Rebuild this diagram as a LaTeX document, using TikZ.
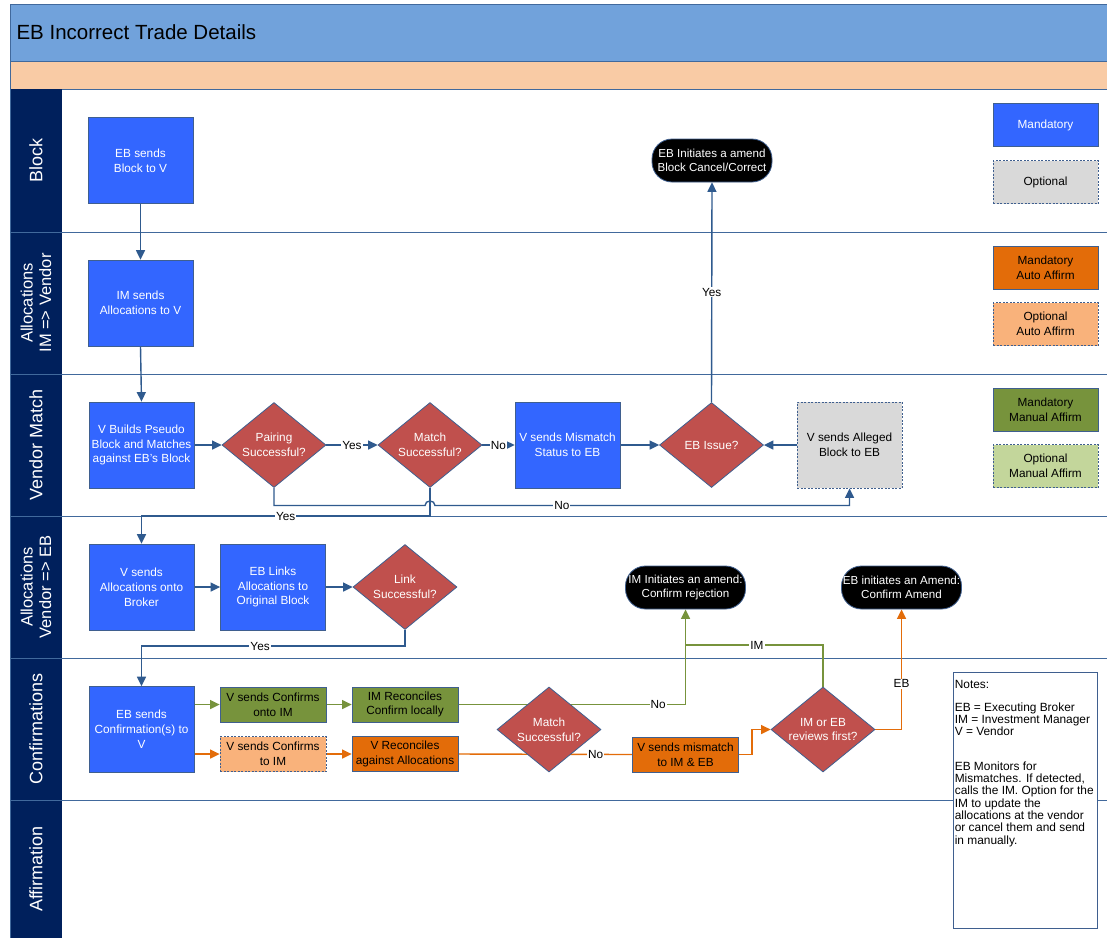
\documentclass[tikz,border=0pt]{standalone}
\usepackage{fontspec}
\setmainfont{Liberation Sans}
\usetikzlibrary{shapes.geometric,arrows.meta}
\definecolor{mblue}{HTML}{3366FF}
\definecolor{dred}{HTML}{C0504D}
\definecolor{bordc}{HTML}{3F5F8F}
\definecolor{lblue}{HTML}{2F5A8E}
\definecolor{optgray}{HTML}{D9D9D9}
\definecolor{mgreen}{HTML}{77933C}
\definecolor{ogreen}{HTML}{C3D69B}
\definecolor{morange}{HTML}{E36C09}
\definecolor{oorange}{HTML}{F9B27B}
\definecolor{titleblue}{HTML}{71A2DB}
\definecolor{bandorange}{HTML}{F9CBA5}
\definecolor{lanenavy}{HTML}{00205C}
\definecolor{sepblue}{HTML}{41699C}
\newcommand{\boxfont}{\fontsize{11.8}{14.8}\selectfont}
\newcommand{\lblfont}{\fontsize{11.8}{13}\selectfont}
\newcommand{\lanefont}{\fontsize{18}{20}\selectfont}
\newcommand{\lanefonttwo}{\fontsize{16.5}{18.5}\selectfont}
\pgfdeclarelayer{lanes}
\pgfdeclarelayer{bg}
\pgfsetlayers{lanes,bg,main}
\begin{document}
\begin{tikzpicture}[x=1pt,y=-1pt,
  box/.style={rectangle, draw=bordc, line width=0.8pt, align=center, inner sep=1pt, font=\boxfont},
  mand/.style={box, fill=mblue, text=white, minimum width=105pt, minimum height=86pt},
  optbox/.style={box, fill=optgray, text=black, dash pattern=on 2pt off 1.5pt, minimum width=105pt, minimum height=86pt},
  sbox/.style={box, text=black, minimum width=106pt, minimum height=35pt},
  dashedbox/.style={dash pattern=on 2pt off 1.5pt},
  dia/.style={diamond, aspect=1.22, inner sep=0pt, draw=bordc, line width=0.8pt, fill=dred, text=white, minimum width=104pt, minimum height=85pt, align=center, font=\boxfont},
  term/.style={rectangle, rounded corners=20pt, fill=black, draw=bordc, line width=0.8pt, text=white, minimum width=120pt, minimum height=43pt, align=center, inner sep=0pt, font=\fontsize{11.6}{14.2}\selectfont},
  legbox/.style={box, minimum width=105pt, minimum height=43pt, font=\fontsize{11.8}{15}\selectfont},
  conn/.style={line width=1.4pt, draw=lblue},
  arr/.style={conn, -{Triangle[length=9.5pt,width=9pt]}},
  gconn/.style={line width=1.4pt, draw=mgreen},
  garr/.style={gconn, -{Triangle[length=9.5pt,width=9pt]}},
  oconn/.style={line width=1.4pt, draw=morange},
  oarr/.style={oconn, -{Triangle[length=9.5pt,width=9pt]}},
  lbl/.style={fill=white, inner sep=1pt, font=\lblfont, text=black},
  lanelbl/.style={rotate=90, text=white, align=center}
]
\useasboundingbox (0,0) rectangle (1107,938);

% ---------- lanes / background ----------
\begin{pgfonlayer}{lanes}
  \fill[white] (0,0) rectangle (1107,938);
  \fill[titleblue] (10,4) rectangle (1107,61);
  \draw[sepblue, line width=0.8pt] (10,4) -- (1107,4);
  \fill[bandorange] (10,61) rectangle (1107,89);
  \draw[sepblue, line width=0.8pt] (10,61) -- (1107,61);
  \draw[sepblue, line width=0.8pt] (10,89) -- (1107,89);
  \fill[lanenavy] (10,89) rectangle (62,938);
  \draw[sepblue, line width=1pt] (10,4) -- (10,938);
  \foreach \yy in {232,374,516,658,800} {
    \draw[sepblue, line width=1pt] (10,\yy) -- (1107,\yy);
  }
  \node[anchor=west, font=\fontsize{20.5}{24}\selectfont, text=black] (title) at (13,32) {EB Incorrect Trade Details};
  \node[lanelbl, font=\lanefont] (lane1) at (36,160.5) {Block};
  \node[lanelbl, font=\lanefonttwo] (lane2) at (36,303) {Allocations\\IM => Vendor};
  \node[lanelbl, font=\lanefont] (lane3) at (36,445) {Vendor Match};
  \node[lanelbl, font=\lanefonttwo] (lane4) at (36,587) {Allocations\\Vendor => EB};
  \node[lanelbl, font=\lanefont] (lane5) at (36,729) {Confirmations};
  \node[lanelbl, font=\lanefont] (lane6) at (36,869) {Affirmation};
\end{pgfonlayer}

% ---------- nodes ----------
\node[mand] (ebb) at (140.5,160.5) {EB sends\\Block to V};
\node[mand] (ims) at (140.5,303) {IM sends\\Allocations to V};
\node[mand] (vb) at (141.5,445) {V Builds Pseudo\\Block and Matches\\against EB's Block};
\node[dia] (pair) at (274,445) {Pairing\\Successful?};
\node[dia] (match) at (430,445) {Match\\Successful?};
\node[mand] (vsm) at (567.5,445) {V sends Mismatch\\Status to EB};
\node[dia] (ebi) at (711.5,445) {EB Issue?};
\node[optbox] (alleged) at (849.5,445) {V sends Alleged\\Block to EB};
\node[term] (blkamend) at (712,160.5) {EB Initiates a amend\\Block Cancel/Correct};

\node[mand] (vab) at (141.5,587) {V sends\\Allocations onto\\Broker};
\node[mand] (ebl) at (273,587) {EB Links\\Allocations to\\Original Block};
\node[dia] (link) at (405,587) {Link\\Successful?};
\node[term] (imamend) at (685.5,587.5) {IM Initiates an amend:\\Confirm rejection};
\node[term] (ebamend) at (901.5,587.5) {EB initiates an Amend:\\Confirm Amend};

\node[mand] (ebconf) at (141.5,729.5) {EB sends\\Confirmation(s) to\\V};
\node[sbox, fill=mgreen] (vci) at (273,704.5) {V sends Confirms\\onto IM};
\node[sbox, fill=mgreen] (imrec) at (405,704.5) {IM Reconciles\\Confirm locally};
\node[sbox, fill=oorange, dashedbox] (vct) at (273,754) {V sends Confirms\\to IM};
\node[sbox, fill=morange] (vrec) at (405,754) {V Reconciles\\against Allocations};
\node[dia] (match2) at (549,729.5) {Match\\Successful?};
\node[sbox, fill=morange] (mm) at (685.5,754.5) {V sends mismatch\\to IM \& EB};
\node[dia] (imeb) at (823,729.5) {IM or EB\\reviews first?};

% legend
\node[legbox, fill=mblue, text=white] (leg1) at (1045.5,125) {Mandatory};
\node[legbox, fill=optgray, dashedbox] (leg2) at (1045.5,182) {Optional};
\node[legbox, fill=morange] (leg3) at (1045.5,267.5) {Mandatory\\Auto Affirm};
\node[legbox, fill=oorange, dashedbox] (leg4) at (1045.5,324) {Optional\\Auto Affirm};
\node[legbox, fill=mgreen] (leg5) at (1045.5,409.5) {Mandatory\\Manual Affirm};
\node[legbox, fill=ogreen, dashedbox] (leg6) at (1045.5,466) {Optional\\Manual Affirm};

% notes
\node[rectangle, draw=bordc, fill=white, line width=0.8pt, minimum width=144pt, minimum height=256pt, inner sep=0pt] (notes) at (1025,800) {};
\node[anchor=north west, align=left, inner sep=0pt, font=\fontsize{11.9}{12.3}\selectfont, xshift=2pt, yshift=-8pt] (notestext) at (notes.north west)
{Notes:\\[11pt]EB = Executing Broker\\IM = Investment Manager\\V = Vendor\\[22pt]EB Monitors for\\Mismatches. If detected,\\calls the IM. Option for the\\IM to update the\\allocations at the vendor\\or cancel them and send\\in manually.};

% ---------- connectors ----------
\coordinate (hopL) at (425,505.5);
\coordinate (hopR) at (435,505.5);
\coordinate (imj) at (685.5,645);
\begin{pgfonlayer}{bg}
  \draw[arr] (ebb.south) -- (ims.north);
  \draw[arr] (ims.south) -- (vb.north);
  \draw[arr] (vb.east) -- (pair.west);
  \draw[arr] (pair.east) -- node[lbl]{Yes} (match.west);
  \draw[arr] (match.east) -- node[lbl]{No} (vsm.west);
  \draw[arr] (vsm.east) -- (ebi.west);
  \draw[arr] (alleged.west) -- (ebi.east);
  \draw[arr] (ebi.north) -- node[lbl]{Yes} (blkamend.south);
  \draw[arr] (pair.south) |- (hopL) .. controls (425,499.5) and (435,499.5) .. (hopR) -| node[lbl, pos=0.153]{No} (alleged.south);
  \draw[arr] (match.south) |- node[lbl, pos=0.75]{Yes} (vab.north |- 0,516) -- (vab.north);
  \draw[arr] (vab.east) -- (ebl.west);
  \draw[arr] (ebl.east) -- (link.west);
  \draw[arr] (link.south) |- node[lbl, pos=0.775]{Yes} (ebconf.north |- 0,646) -- (ebconf.north);
  \draw[garr] (ebconf.east |- vci.west) -- (vci.west);
  \draw[garr] (vci.east) -- (imrec.west);
  \draw[oarr] (ebconf.east |- vct.west) -- (vct.west);
  \draw[oarr] (vct.east) -- (vrec.west);
  \draw[garr] (imrec.east) -| node[lbl, pos=0.44]{No} (imamend.south);
  \draw[gconn] (imeb.north) |- node[lbl, pos=0.74]{IM} (imj);
  \draw[oconn] (vrec.east) -- node[lbl, pos=0.79]{No} (mm.west);
  \draw[oarr] (mm.east) -- ++(13,0) |- (imeb.west);
  \draw[oarr] (imeb.east) -| node[lbl, pos=0.69]{EB} (ebamend.south);
\end{pgfonlayer}
\end{tikzpicture}
\end{document}
